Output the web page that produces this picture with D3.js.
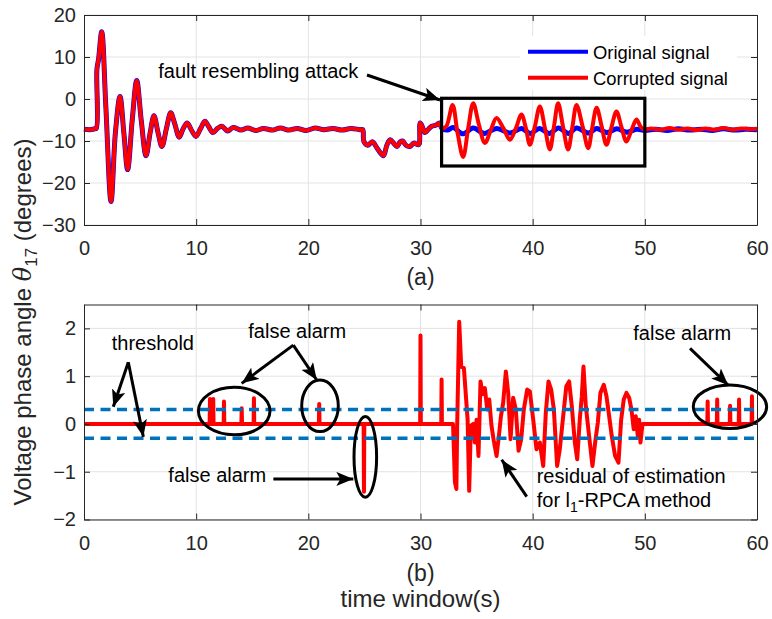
<!DOCTYPE html>
<html>
<head>
<meta charset="utf-8">
<script src="https://cdn.jsdelivr.net/npm/d3@7"></script>
<style>
  body { margin: 0; background: #fff; }
  svg text { font-family: "Liberation Sans", Arial, Helvetica, sans-serif; }
</style>
</head>
<body>
<div id="chart"></div>
<script>
var width = 772, height = 619;

// ---- (a) voltage phase angle, degrees ----
// shared part of both signals (0 - 31.9 s)
var transT = [0, 0.5, 0.95, 1.1, 1.15, 1.3, 1.58, 1.95, 2.41, 2.8, 3.21, 3.55, 3.89, 4.3, 4.7, 5.1, 5.53, 5.9, 6.24, 6.6, 6.95,
  7.35, 7.73, 8.1, 8.49, 8.85, 9.2, 9.6, 9.98, 10.4, 10.78, 11.1, 11.5, 11.9, 12.3, 12.8, 13.3, 14, 14.6, 15.3, 16, 16.8, 17.5,
  18.3, 19, 19.8, 20.6, 21.4, 22.2, 23, 23.8, 24.6, 24.85, 24.95, 25.3, 25.7, 26.2, 26.7, 27.0, 27.3, 27.6, 27.9, 28.2, 28.4,
  28.7, 29.05, 29.4, 29.8, 29.9, 29.97, 30.15, 30.4, 30.7, 31.0, 31.4, 31.7, 31.9];
var transV = [-7.2, -7.3, -7.1, -7.0, 7, 9.5, 16, -2, -24.4, -8, 0.6, -8, -16.8, -5, 4.4, -5, -13.5, -8, -4, -8, -11.3,
  -7, -3.3, -6, -9.1, -7, -5.7, -7.5, -8.9, -7, -5.3, -6.5, -8, -7, -6.5, -7.6, -6.8, -7.4, -6.9, -7.5, -7.0, -7.4, -6.9,
  -7.4, -7.0, -7.5, -6.9, -7.3, -7.0, -7.4, -7.0, -7.3, -7.3, -10.1, -11, -10.2, -12, -13.5, -11, -9.7, -10.5, -11.3, -10.2, -10,
  -11, -11.3, -10.5, -10.9, -10.6, -5.7, -6.5, -8, -7.2, -6.5, -6.2, -5.7, -7.0];
// original signal after 31.9 s
var origTailT = [32.4, 32.9, 33.8, 34.7, 35.7, 36.8, 38, 39, 39.8, 40.6, 41.5, 42.3, 43.2, 43.9, 45, 45.7, 46.6, 47.5, 48.4,
  49.3, 50, 51, 52, 53, 54, 55, 56, 57, 58, 59, 60];
var origTailV = [-7.4, -6.8, -8.3, -6.9, -8.2, -7.0, -8.1, -7.0, -8.2, -7.0, -8.2, -6.9, -8.2, -6.9, -8.1, -7.0, -8.0, -7.1, -7.9,
  -7.2, -7.5, -7.2, -7.5, -7.1, -7.4, -7.2, -7.5, -7.1, -7.4, -7.2, -7.3];
// corrupted signal after 31.9 s (fault resembling attack)
var attackT = [32.3, 32.86, 33.3, 33.8, 34.25, 34.7, 35.2, 35.74, 36.25, 36.78, 37.4, 37.97, 38.5, 39.0, 39.4, 39.75, 40.2, 40.64,
  41.1, 41.53, 41.9, 42.27, 42.7, 43.16, 43.55, 43.91, 44.45, 44.95, 45.3, 45.7, 46.15, 46.58, 47.0, 47.47, 47.9, 48.36, 48.8,
  49.26, 49.6, 49.9, 50.6, 51.4, 52.2, 53, 53.8, 54.6, 55.4, 56.2, 57, 57.8, 58.6, 59.4, 60];
var attackV = [-6.5, -1.4, -8, -13.8, -7, -1, -6, -10.5, -7.5, -4.5, -7, -9.7, -7, -3.7, -7, -10.9, -6.5, -1.8,
  -7, -12, -6.5, -1, -6.5, -12, -6.5, -1.4, -6.5, -11.7, -7, -2.1, -6.5, -10.9, -7, -3, -6.5, -10.1, -7.5,
  -4.9, -6.5, -7.2, -7.0, -7.3, -6.9, -7.3, -7.0, -7.4, -7.0, -7.3, -6.9, -7.3, -7.0, -7.2, -7.1];

// ---- (b) residual of estimation ----
var spikeT = [11.23, 11.52, 12.48, 14.06, 15.15, 20.97, 24.96, 30.0, 31.88, 55.6, 56.45, 57.6, 58.4, 59.55];
var spikeV = [0.52, 0.52, 0.47, 0.33, 0.54, 0.42, -1.42, 1.85, 0.93, 0.47, 0.51, 0.38, 0.51, 0.58];
var resT = [32.9, 33.07, 33.2, 33.27, 33.45, 33.63, 33.87, 34.05, 34.2, 34.34, 34.49, 34.7, 34.85, 35.0, 35.17, 35.35, 35.53,
  35.74, 35.95, 36.13, 36.33, 36.54, 36.78, 36.99, 37.17, 37.37, 37.61, 37.82, 38.03, 38.26, 38.5, 38.74, 38.98, 39.21, 39.51,
  39.75, 40.05, 40.34, 40.64, 40.94, 41.17, 41.41, 41.65, 41.89, 42.18, 42.42, 42.72, 43.0, 43.25, 43.49, 43.76, 43.97, 44.2,
  44.38, 44.53, 44.74, 45.03, 45.33, 45.57, 45.81, 46.04, 46.34, 46.58, 46.82, 47.05, 47.35, 47.65, 47.89, 48.12, 48.36, 48.6,
  48.81, 49.01, 49.19, 49.37, 49.49, 49.61, 49.79];
var resV = [0, -1.22, -1.36, -0.04, 2.14, 1.2, 1.17, 0.58, 0.09, -1.4, -0.04, 0.0, -0.39, 0.09, -0.67, 0.89, 0.62,
  0.75, 0.3, 0.51, -0.04, -0.36, -0.67, -0.25, 0.16, 0.44, 1.1, 0.65, -0.32, 0.55, 0.3, -0.56, -0.32, 0.3, 0.72,
  0.68, 0.09, -0.53, -0.39, -0.88, 0.23, 0.89, 0.72, 0.3, -0.88, -0.53, 0.16, 0.79, 0.89, 0.37, -0.39, -0.74, 0.09,
  0.58, 1.2, 0.37, -0.25, -0.88, -0.39, 0.03, 0.65, 0.82, 0.58, 0.16, -0.25, -0.67, -0.81, 0.09, 0.51, 0.65, 0.55,
  0.3, -0.11, 0.16, -0.25, 0.09, -0.39, 0];
var threshold = 0.3;

var xTicks = [0, 10, 20, 30, 40, 50, 60];
var yTopTicks = [-30, -20, -10, 0, 10, 20];
var yBotTicks = [-2, -1, 0, 1, 2];

var svg = d3.select("#chart").append("svg")
    .attr("width", width)
    .attr("height", height);

var x = d3.scaleLinear().domain([0, 60]).range([84, 757]);
var yTop = d3.scaleLinear().domain([-30, 20]).range([225, 15]);
var yBot = d3.scaleLinear().domain([-2, 2.5]).range([519.5, 304.5]);

var axisCol = "#262626";
var blue = "#0000ff", red = "#ff0000", dashBlue = "#0072bd";

svg.append("defs").append("marker")
    .attr("id", "arr")
    .attr("markerUnits", "userSpaceOnUse")
    .attr("markerWidth", 18).attr("markerHeight", 14)
    .attr("refX", 17).attr("refY", 7)
    .attr("orient", "auto")
  .append("path")
    .attr("d", "M0,0 L17,7 L0,14 L4,7 Z")
    .attr("fill", "#000");

function frame(y, yTicks) {
  var g = svg.append("g");
  // grid
  g.append("g").selectAll("line").data(xTicks.slice(1, -1)).enter().append("line")
      .attr("x1", x).attr("x2", x)
      .attr("y1", y.range()[0]).attr("y2", y.range()[1])
      .attr("stroke", "#e3e3e3").attr("stroke-width", 1);
  g.append("g").selectAll("line").data(yTicks).enter().append("line")
      .attr("x1", x(0)).attr("x2", x(60))
      .attr("y1", y).attr("y2", y)
      .attr("stroke", "#e3e3e3").attr("stroke-width", 1);
  return g;
}

function axes(y, yTicks) {
  var bottomY = y.range()[0], topY = y.range()[1];
  svg.append("g").attr("transform", "translate(0," + bottomY + ")")
      .call(d3.axisBottom(x).tickValues(xTicks).tickSizeInner(-6).tickSizeOuter(0).tickPadding(16).tickFormat(d3.format("d")));
  svg.append("g").attr("transform", "translate(0," + topY + ")")
      .call(d3.axisTop(x).tickValues(xTicks).tickSizeInner(-6).tickSizeOuter(0).tickFormat(""));
  svg.append("g").attr("transform", "translate(" + x(0) + ",0)")
      .call(d3.axisLeft(y).tickValues(yTicks).tickSizeInner(-6).tickSizeOuter(0).tickPadding(8).tickFormat(d3.format("d")));
  svg.append("g").attr("transform", "translate(" + x(60) + ",0)")
      .call(d3.axisRight(y).tickValues(yTicks).tickSizeInner(-6).tickSizeOuter(0).tickFormat(""));
  svg.selectAll(".domain").attr("stroke", axisCol);
  svg.selectAll(".tick line").attr("stroke", axisCol);
  svg.selectAll(".tick text").attr("fill", axisCol).attr("font-size", 20)
      .attr("font-family", "Liberation Sans, Arial, sans-serif");
}

// ---------- (a) ----------
frame(yTop, yTopTicks);

var lineTop = d3.line()
    .x(function (d) { return x(d[0]); })
    .y(function (d) { return yTop(d[1]); })
    .curve(d3.curveCatmullRom.alpha(0.5));

var trans = d3.zip(transT, transV);
var original = trans.concat(d3.zip(origTailT, origTailV));
var corrupted = trans.concat(d3.zip(attackT, attackV));

svg.append("path").datum(original)
    .attr("d", lineTop).attr("fill", "none")
    .attr("stroke", blue).attr("stroke-width", 5).attr("stroke-linejoin", "round");
svg.append("path").datum(corrupted)
    .attr("d", lineTop).attr("fill", "none")
    .attr("stroke", red).attr("stroke-width", 4).attr("stroke-linejoin", "round");

// legend
var leg = svg.append("g");
leg.append("rect").attr("x", 520).attr("y", 36).attr("width", 217).attr("height", 54).attr("fill", "#fff");
[["Original signal", blue, 51.7], ["Corrupted signal", red, 77.7]].forEach(function (l) {
  leg.append("line").attr("x1", 528).attr("x2", 588).attr("y1", l[2]).attr("y2", l[2])
      .attr("stroke", l[1]).attr("stroke-width", 4);
  leg.append("text").attr("x", 593).attr("y", l[2] + 7).attr("font-size", 18.4).attr("fill", "#000").text(l[0]);
});

// attack annotation
svg.append("rect")
    .attr("x", x(31.88)).attr("y", yTop(0.17))
    .attr("width", x(50) - x(31.88)).attr("height", yTop(-15.95) - yTop(0.17))
    .attr("fill", "none").attr("stroke", "#000").attr("stroke-width", 3.2);
svg.append("text").attr("x", x(6.62)).attr("y", yTop(4.93)).attr("font-size", 20).text("fault resembling attack");
svg.append("line")
    .attr("x1", x(25.23)).attr("y1", yTop(5.71)).attr("x2", x(31.74)).attr("y2", yTop(-0.24))
    .attr("stroke", "#000").attr("stroke-width", 3).attr("marker-end", "url(#arr)");

axes(yTop, yTopTicks);

// ---------- (b) ----------
frame(yBot, yBotTicks);

var lineBot = d3.line()
    .x(function (d) { return x(d[0]); })
    .y(function (d) { return yBot(d[1]); });

// residual: zero line with isolated spikes, then the oscillating part
var residual = [[0, 0]];
spikeT.forEach(function (t, i) {
  if (t > 32) return;
  residual.push([t - 0.03, 0], [t, spikeV[i]], [t + 0.03, 0]);
});
residual = residual.concat(d3.zip(resT, resV));
spikeT.forEach(function (t, i) {
  if (t < 50) return;
  residual.push([t - 0.03, 0], [t, spikeV[i]], [t + 0.03, 0]);
});

svg.append("path").datum(residual)
    .attr("d", lineBot).attr("fill", "none")
    .attr("stroke", red).attr("stroke-width", 4).attr("stroke-linejoin", "round");

[threshold, -threshold].forEach(function (v) {
  svg.append("line")
      .attr("x1", x(0)).attr("x2", x(60)).attr("y1", yBot(v)).attr("y2", yBot(v))
      .attr("stroke", dashBlue).attr("stroke-width", 3.5).attr("stroke-dasharray", "10,6.5");
});

// annotations
var ann = svg.append("g");
function arrow(t1, v1, t2, v2) {
  ann.append("line")
      .attr("x1", x(t1)).attr("y1", yBot(v1)).attr("x2", x(t2)).attr("y2", yBot(v2))
      .attr("stroke", "#000").attr("stroke-width", 3).attr("marker-end", "url(#arr)");
}
function label(t, v, s) {
  ann.append("text").attr("x", x(t)).attr("y", yBot(v)).attr("font-size", 20).text(s);
}
function ring(t, v, rx, ry) {
  ann.append("ellipse").attr("cx", x(t)).attr("cy", yBot(v)).attr("rx", rx).attr("ry", ry)
      .attr("fill", "none").attr("stroke", "#000").attr("stroke-width", 3);
}

label(2.47, 1.55, "threshold");
arrow(3.95, 1.29, 2.61, 0.36);
arrow(3.95, 1.29, 5.29, -0.27);

label(14.65, 1.79, "false alarm");
arrow(18.66, 1.65, 14.06, 0.85);
arrow(18.66, 1.65, 20.75, 0.92);
ring(13.39, 0.27, 35.8, 23.8);
ring(21.04, 0.38, 18.3, 25.8);

label(7.52, -1.21, "false alarm");
arrow(16.88, -1.15, 24.01, -1.15);
ring(25.08, -0.69, 11.3, 40.3);

label(48.97, 1.76, "false alarm");
arrow(54.03, 1.58, 57.44, 0.81);
ring(57.59, 0.36, 36.7, 21.7);

label(40.36, -1.23, "residual of estimation");
var l1 = ann.append("text").attr("x", x(40.36)).attr("y", yBot(-1.73)).attr("font-size", 20);
l1.append("tspan").text("for l");
l1.append("tspan").attr("dy", 5).attr("font-size", 14).text("1");
l1.append("tspan").attr("dy", -5).text("-RPCA method");
arrow(39.47, -1.52, 37.24, -0.75);

axes(yBot, yBotTicks);

// ---------- titles ----------
var midX = (x(0) + x(60)) / 2;
svg.append("text").attr("x", midX).attr("y", 285).attr("text-anchor", "middle")
    .attr("font-size", 23).attr("fill", axisCol).text("(a)");
svg.append("text").attr("x", midX).attr("y", 581).attr("text-anchor", "middle")
    .attr("font-size", 23).attr("fill", axisCol).text("(b)");
svg.append("text").attr("x", midX).attr("y", 607).attr("text-anchor", "middle")
    .attr("font-size", 24).attr("fill", axisCol).text("time window(s)");

var yl = svg.append("text")
    .attr("transform", "translate(31,322) rotate(-90)")
    .attr("text-anchor", "middle").attr("font-size", 24).attr("fill", axisCol);
yl.append("tspan").text("Voltage phase angle ");
yl.append("tspan").attr("font-style", "italic").attr("font-family", "DejaVu Serif, serif").text("\u03b8");
yl.append("tspan").attr("dy", 6).attr("font-size", 17).text("17");
yl.append("tspan").attr("dy", -6).text(" (degrees)");
</script>
</body>
</html>
